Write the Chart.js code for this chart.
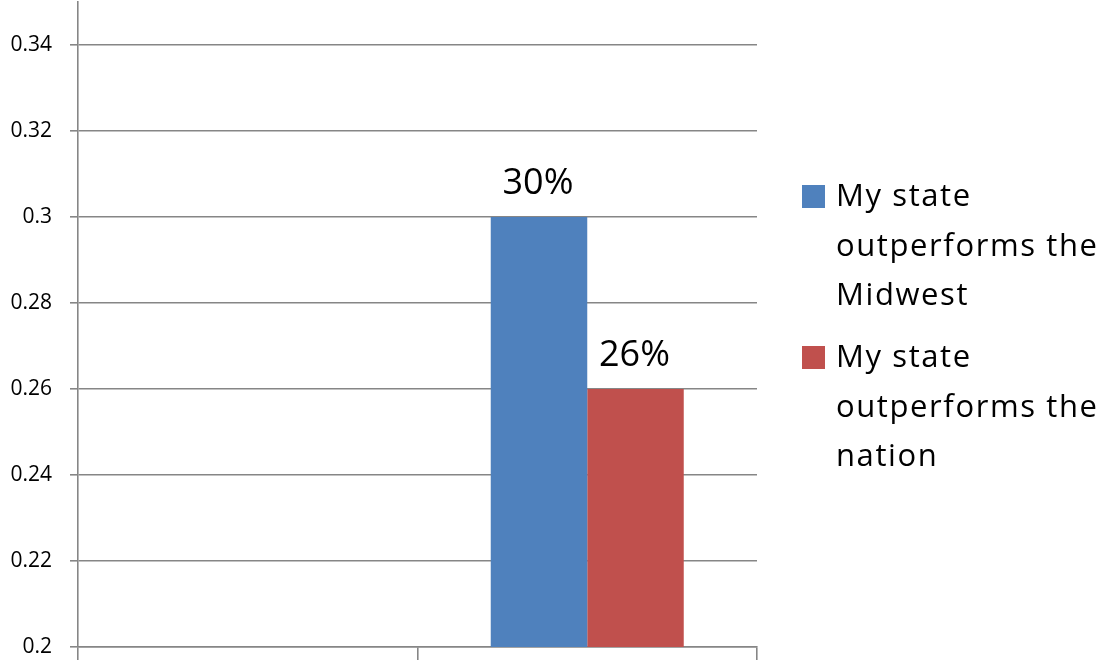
<!DOCTYPE html>
<html>
<head>
<meta charset="utf-8">
<script src="https://cdn.jsdelivr.net/npm/chart.js@4/dist/chart.umd.min.js"></script>
<style>
    html, body { margin: 0; padding: 0; background: #fff; }
    #chart { display: block; }
</style>
</head>
<body>
<canvas id="chart" width="1101" height="660"></canvas>
<script>
// Series data
var categories = ['', ''];
var midwest = [null, 0.30];
var nation = [null, 0.26];
var seriesLabels = [
    ['My state', 'outperforms the', 'Midwest'],
    ['My state', 'outperforms the', 'nation']
];
var yTicks = [0.2, 0.22, 0.24, 0.26, 0.28, 0.3, 0.32, 0.34];

var FONT = "'Open Sans', 'Noto Sans', sans-serif";
var GRID = '#868686';

// Value labels above the bars ("30%")
var valueLabels = {
    id: 'valueLabels',
    afterDatasetsDraw: function(chart){
        var ctx = chart.ctx;
        ctx.save();
        ctx.font = '36px ' + FONT;
        ctx.fillStyle = '#000';
        ctx.textAlign = 'center';
        ctx.textBaseline = 'alphabetic';
        chart.data.datasets.forEach(function(ds, i){
            chart.getDatasetMeta(i).data.forEach(function(bar, j){
                var v = ds.data[j];
                if (v == null) return;
                ctx.fillText(Math.round(v * 100) + '%', bar.x - 1, bar.y - 23);
            });
        });
        ctx.restore();
    }
};

// Legend on the right with wrapped text
var sideLegend = {
    id: 'sideLegend',
    afterDraw: function(chart){
        var ctx = chart.ctx;
        var x = chart.chartArea.right + 45;
        var tops = [206, 367];
        ctx.save();
        ctx.font = '31px ' + FONT;
        if ('letterSpacing' in ctx) ctx.letterSpacing = '1.6px';
        ctx.fillStyle = '#000';
        ctx.textAlign = 'left';
        ctx.textBaseline = 'alphabetic';
        chart.data.datasets.forEach(function(ds, i){
            var base = tops[i];
            ctx.fillStyle = ds.backgroundColor;
            ctx.fillRect(x, base - 21, 23, 23);
            ctx.fillStyle = '#000';
            seriesLabels[i].forEach(function(line, k){
                ctx.fillText(line, x + 34, base + k * 49.5);
            });
        });
        ctx.restore();
    }
};

var ctx = document.getElementById('chart').getContext('2d');
var chart = new Chart(ctx, {
    type: 'bar',
    data: {
        labels: categories,
        datasets: [
            {
                label: seriesLabels[0].join(' '),
                data: midwest,
                backgroundColor: '#4F81BD',
                borderWidth: 0,
                categoryPercentage: 0.5685,
                barPercentage: 1
            },
            {
                label: seriesLabels[1].join(' '),
                data: nation,
                backgroundColor: '#C0504D',
                borderWidth: 0,
                categoryPercentage: 0.5685,
                barPercentage: 1
            }
        ]
    },
    options: {
        responsive: false,
        devicePixelRatio: 1,
        animation: false,
        layout: { padding: { top: 2, right: 344, bottom: 0, left: 0 } },
        plugins: {
            legend: { display: false },
            tooltip: { enabled: false },
            title: { display: false }
        },
        scales: {
            x: {
                grid: {
                    offset: true,
                    drawOnChartArea: false,
                    tickLength: 13,
                    lineWidth: 1.6,
                    color: GRID
                },
                border: { color: GRID, width: 1.6 },
                ticks: { display: false }
            },
            y: {
                min: 0.2,
                max: 0.35,
                afterBuildTicks: function(s){
                    s.ticks = yTicks.map(function(v){ return { value: v }; });
                },
                afterFit: function(s){
                    s.width = 78;
                    s.paddingTop = 0;
                    s.paddingBottom = 0;
                },
                grid: { color: GRID, lineWidth: 1.6, tickLength: 8 },
                border: { color: GRID, width: 1.6 },
                ticks: {
                    padding: 18,
                    color: '#000',
                    font: { family: FONT, size: 21 },
                    callback: function(v){ return String(+v.toFixed(2)); }
                }
            }
        }
    },
    plugins: [valueLabels, sideLegend]
});
</script>
</body>
</html>
